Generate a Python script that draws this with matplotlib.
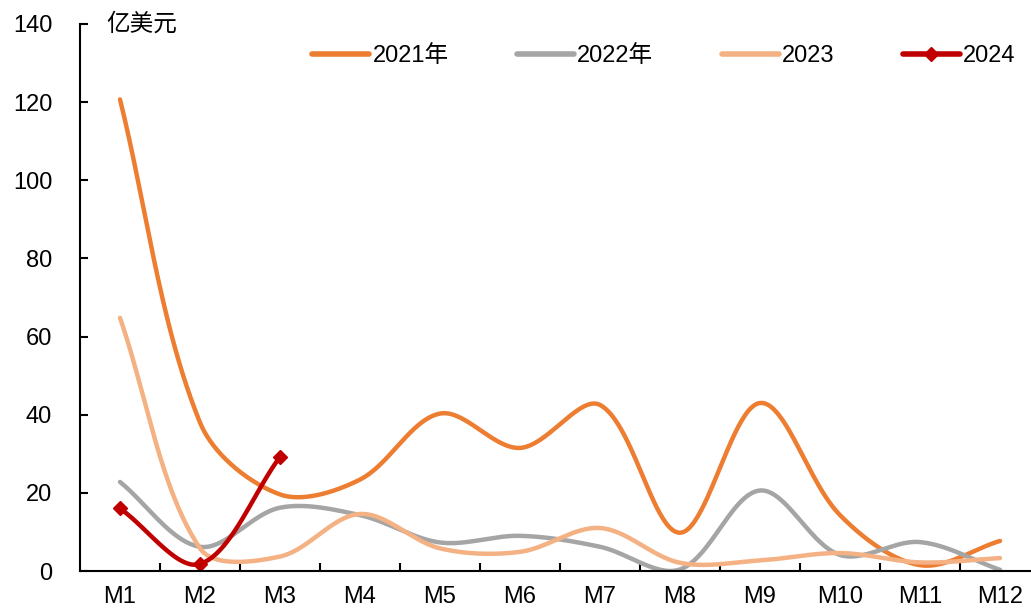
import numpy as np
import matplotlib.pyplot as plt
from matplotlib.lines import Line2D

plt.rcParams['font.family'] = ['Liberation Sans', 'Noto Sans CJK SC', 'DejaVu Sans']

months = ['M1', 'M2', 'M3', 'M4', 'M5', 'M6', 'M7', 'M8', 'M9', 'M10', 'M11', 'M12']
y2021 = [120.7, 38.0, 19.6, 23.4, 40.3, 31.5, 42.5, 9.8, 43.0, 14.3, 1.5, 7.7]
y2022 = [22.8, 6.2, 16.2, 14.3, 7.3, 9.0, 6.2, 0.4, 20.6, 4.1, 7.4, 0.3]
y2023 = [64.8, 5.8, 3.7, 14.6, 5.8, 4.9, 11.0, 2.1, 2.7, 4.6, 2.2, 3.3]
y2024 = [16.0, 1.8, 29.2]

labels = ['2021年', '2022年', '2023', '2024']
colors = ['#ED7D31', '#A5A5A5', '#F4B183', '#C00000']

# pixel size of one x step and one y unit, used to weight the smoothing
SX, SY = 80.0, 547 / 140


def smooth(x, y, n=50):
    # Bezier smoothing through the points, tangents weighted by chord length
    p = np.column_stack([np.asarray(x, float) * SX, np.asarray(y, float) * SY])
    m = len(p)
    ext = np.vstack([p[0], p, p[-1]])
    out_c, in_c = [], []
    for i in range(m):
        prev, cur, nxt = ext[i], ext[i + 1], ext[i + 2]
        d0 = np.hypot(*(cur - prev))
        d1 = np.hypot(*(nxt - cur))
        tot = d0 + d1 if d0 + d1 > 0 else 1.0
        tan = nxt - prev
        out_c.append(cur + tan * d1 / tot / 3)
        in_c.append(cur - tan * d0 / tot / 3)
    t = np.linspace(0, 1, n)[:, None]
    segs = []
    for i in range(m - 1):
        b = (1 - t) ** 3 * p[i] + 3 * (1 - t) ** 2 * t * out_c[i] \
            + 3 * (1 - t) * t ** 2 * in_c[i + 1] + t ** 3 * p[i + 1]
        segs.append(b)
    b = np.vstack(segs)
    return b[:, 0] / SX, b[:, 1] / SY


fig = plt.figure(figsize=(10.31, 6.10), dpi=100)
ax = fig.add_axes([80 / 1031, 39 / 610, 960 / 1031, 547 / 610])

pos = np.arange(1, 13)
for vals, c in zip([y2021, y2022, y2023], colors[:3]):
    sx, sy = smooth(pos[:len(vals)], vals)
    ax.plot(sx, sy, color=c, lw=3.2, solid_capstyle='round')

sx, sy = smooth(pos[:len(y2024)], y2024)
ax.plot(sx, sy, color=colors[3], lw=3.2, solid_capstyle='round')
ax.plot(pos[:len(y2024)], y2024, ls='none', marker='D', ms=7, color=colors[3])

ax.set_xlim(0.5, 12.5)
ax.set_ylim(0, 140)
ax.set_yticks(np.arange(0, 141, 20))
ax.set_xticks(pos)
ax.set_xticklabels(months)
ax.set_xticks(np.arange(1.5, 12.5, 1), minor=True)

for s in ['top', 'right']:
    ax.spines[s].set_visible(False)
for s in ['left', 'bottom']:
    ax.spines[s].set_linewidth(1.5)
    ax.spines[s].set_color('black')

ax.tick_params(axis='x', which='major', length=0, pad=11, labelsize=17)
ax.tick_params(axis='x', which='minor', direction='in', length=6, width=1.5)
ax.tick_params(axis='y', direction='in', length=6, width=1.5, pad=20, labelsize=17)

ax.text(0.83, 140, '亿美元', fontsize=17, va='center', ha='left')

handles = [Line2D([], [], color=colors[0], lw=4, solid_capstyle='round'),
           Line2D([], [], color=colors[1], lw=4, solid_capstyle='round'),
           Line2D([], [], color=colors[2], lw=4, solid_capstyle='round'),
           Line2D([], [], color=colors[3], lw=4, marker='D', ms=7, solid_capstyle='round')]
fig.legend(handles, labels, ncol=4, loc='center left', bbox_to_anchor=(291 / 1031, 1 - 56 / 610),
           frameon=False, fontsize=17, handlelength=2.4, handletextpad=0.15, columnspacing=2.9)

fig.savefig('out.png', dpi=100)
